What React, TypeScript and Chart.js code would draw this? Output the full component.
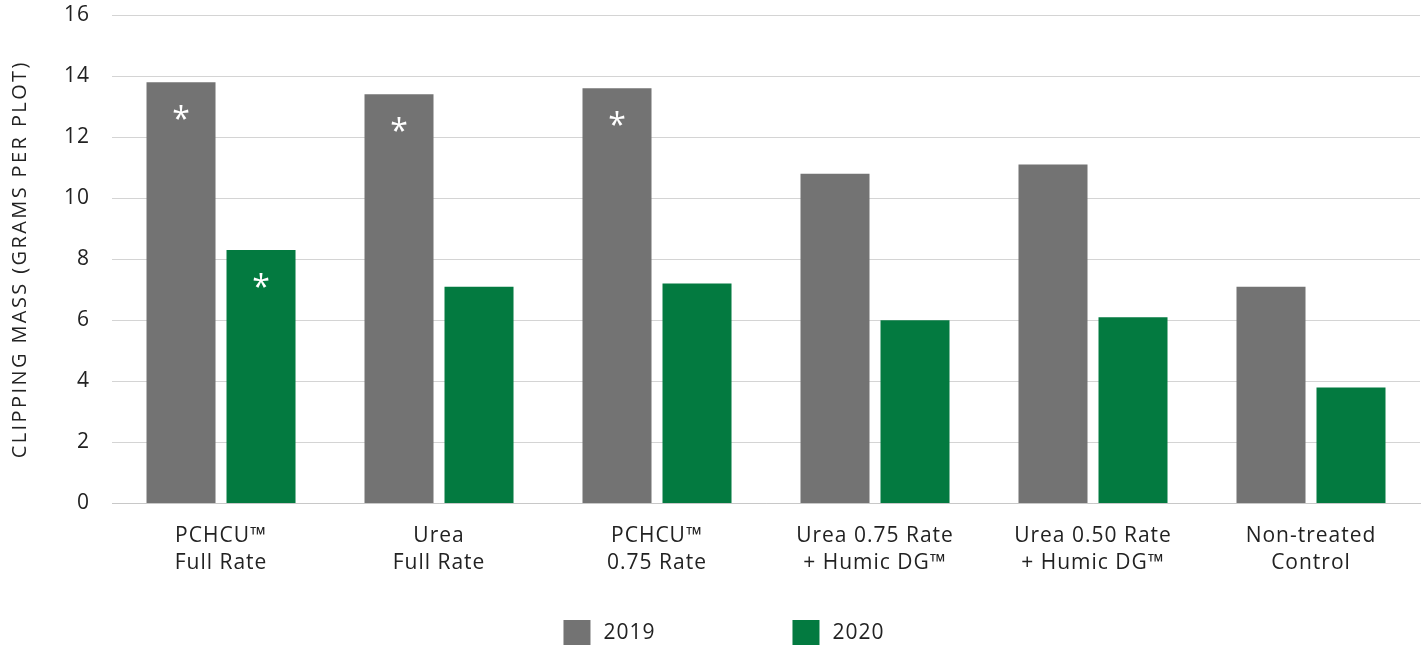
import React, { useEffect, useRef } from "react";
import { Chart, registerables } from "chart.js";

Chart.register(...registerables);

const categories: string[][] = [
  ["PCHCU™", "Full Rate"],
  ["Urea", "Full Rate"],
  ["PCHCU™", "0.75 Rate"],
  ["Urea 0.75 Rate", "+ Humic DG™"],
  ["Urea 0.50 Rate", "+ Humic DG™"],
  ["Non-treated", "Control"],
];
const series2019: number[] = [13.8, 13.4, 13.6, 10.8, 11.1, 7.1];
const series2020: number[] = [8.3, 7.1, 7.2, 6.0, 6.1, 3.8];
const marks2019: boolean[] = [true, true, true, false, false, false];
const marks2020: boolean[] = [true, false, false, false, false, false];
const yTicks: number[] = [0, 2, 4, 6, 8, 10, 12, 14, 16];
const yTitle = "CLIPPING MASS (GRAMS PER PLOT)";

const FONT = "'Open Sans', Lato, sans-serif";

const spacingPlugin = {
  id: "spacing",
  beforeUpdate(chart: any) {
    chart.ctx.letterSpacing = "1px";
  },
  beforeDraw(chart: any) {
    chart.ctx.letterSpacing = "1px";
  },
};

const asteriskPlugin = {
  id: "asterisks",
  afterDatasetsDraw(chart: any) {
    const ctx = chart.ctx;
    const markSets = [marks2019, marks2020];
    ctx.save();
    ctx.letterSpacing = "0px";
    ctx.fillStyle = "#ffffff";
    ctx.font = `32px ${FONT}`;
    ctx.textAlign = "center";
    ctx.textBaseline = "middle";
    markSets.forEach((marks, di) => {
      const meta = chart.getDatasetMeta(di);
      meta.data.forEach((bar: any, i: number) => {
        if (marks[i]) ctx.fillText("*", bar.x, bar.y + 39);
      });
    });
    ctx.restore();
  },
};

const titleLegendPlugin = {
  id: "titleLegend",
  afterDraw(chart: any) {
    const ctx = chart.ctx;
    const area = chart.chartArea;
    ctx.save();
    // y-axis title
    ctx.letterSpacing = "2.4px";
    ctx.font = `20px ${FONT}`;
    ctx.fillStyle = "#222";
    ctx.textAlign = "center";
    ctx.textBaseline = "middle";
    ctx.translate(20, (area.top + area.bottom) / 2);
    ctx.rotate(-Math.PI / 2);
    ctx.fillText(yTitle, 0, 0);
    ctx.restore();

    // legend
    const ds = chart.data.datasets;
    ctx.save();
    ctx.letterSpacing = "1px";
    ctx.font = `21px ${FONT}`;
    ctx.textBaseline = "middle";
    ctx.textAlign = "left";
    const boxW = 27;
    const boxH = 26;
    const gapText = 13;
    const stride = 229;
    const lastW = boxW + gapText + ctx.measureText(ds[ds.length - 1].label).width;
    const total = stride * (ds.length - 1) + lastW;
    const cx = chart.width / 2 + 12;
    const top = 620;
    ds.forEach((d: any, i: number) => {
      const x = cx - total / 2 + i * stride;
      ctx.fillStyle = d.backgroundColor;
      ctx.fillRect(x, top, boxW, boxH);
      ctx.fillStyle = "#222";
      ctx.fillText(d.label, x + boxW + gapText, top + boxH / 2);
    });
    ctx.restore();
  },
};

export default function App() {
  const ref = useRef<HTMLCanvasElement | null>(null);
  useEffect(() => {
    document.body.style.margin = "0";
    const chart = new Chart(ref.current!, {
      type: "bar",
      data: {
        labels: categories,
        datasets: [
          {
            label: "2019",
            data: series2019,
            backgroundColor: "#737373",
            categoryPercentage: 0.734,
            barPercentage: 0.8625,
          },
          {
            label: "2020",
            data: series2020,
            backgroundColor: "#037a40",
            categoryPercentage: 0.734,
            barPercentage: 0.8625,
          },
        ],
      },
      options: {
        animation: false,
        responsive: false,
        maintainAspectRatio: false,
        layout: { padding: { top: 15, right: 4, left: 64, bottom: 57 } },
        plugins: {
          legend: { display: false },
          tooltip: { enabled: false },
        },
        scales: {
          x: {
            grid: { display: false },
            border: { display: true, color: "#c8c8c8" },
            ticks: {
              color: "#222",
              font: { family: FONT, size: 21, lineHeight: 1.3 },
              padding: 11,
              maxRotation: 0,
            },
          },
          y: {
            min: 0,
            max: 16,
            afterBuildTicks: (axis: any) => {
              axis.ticks = yTicks.map((v) => ({ value: v }));
            },
            grid: {
              color: "#d4d4d4",
              drawTicks: true,
              tickLength: 22,
              tickColor: "rgba(0,0,0,0)",
            },
            border: { display: false },
            ticks: {
              color: "#222",
              font: { family: FONT, size: 21 },
              padding: 0,
            },
          },
        },
      },
      plugins: [spacingPlugin, asteriskPlugin, titleLegendPlugin],
    });
    return () => chart.destroy();
  }, []);
  return (
    <div style={{ width: 1424, height: 645 }}>
      <canvas ref={ref} width={1424} height={645} />
    </div>
  );
}
